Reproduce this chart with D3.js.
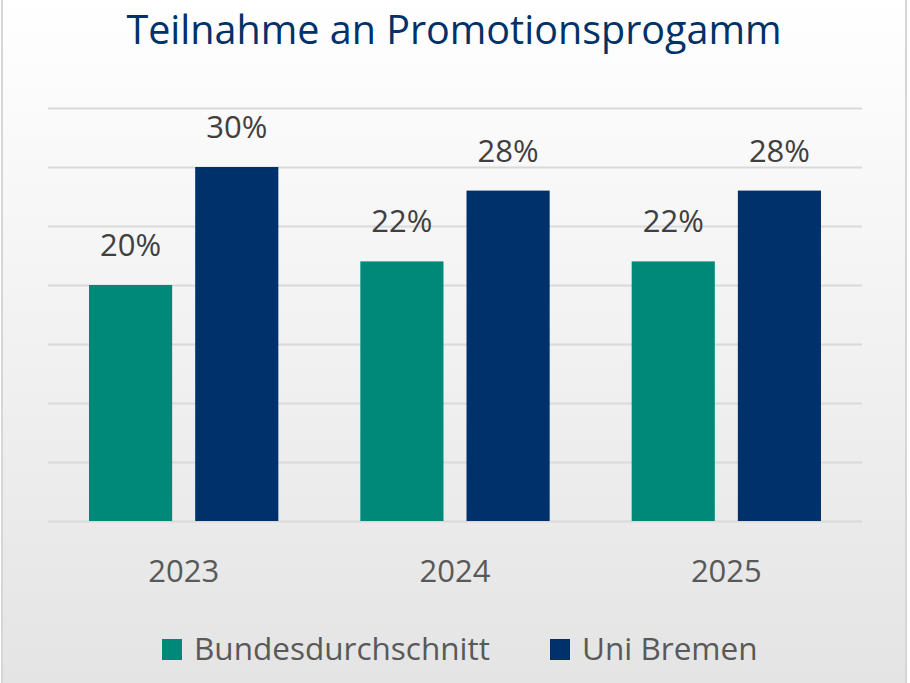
<!DOCTYPE html>
<html>
<head>
<meta charset="utf-8">
<script src="https://cdn.jsdelivr.net/npm/d3@7"></script>
<style>
  body { margin: 0; background: #fff; }
  text { font-family: "Open Sans", "Noto Sans", sans-serif; }
</style>
</head>
<body>
<div id="chart-area"></div>
<script>
// data
var years = ["2023", "2024", "2025"];
var seriesNames = ["Bundesdurchschnitt", "Uni Bremen"];
var bundValues = [20, 22, 22];
var bremenValues = [30, 28, 28];
var colors = ["#008878", "#00316b"];

var W = 910, H = 683;
var margin = { top: 108, right: 48, bottom: 162, left: 48 };
var width = W - margin.left - margin.right;
var height = H - margin.top - margin.bottom;

var svg = d3.select("#chart-area").append("svg")
    .attr("width", W)
    .attr("height", H);

// background gradient
var grad = svg.append("defs").append("linearGradient")
    .attr("id", "bg").attr("x1", 0).attr("y1", 0).attr("x2", 0).attr("y2", 1);
grad.append("stop").attr("offset", "0%").attr("stop-color", "#ffffff");
grad.append("stop").attr("offset", "100%").attr("stop-color", "#e4e4e4");

svg.append("rect")
    .attr("x", 2).attr("y", -2)
    .attr("width", W - 6).attr("height", H + 4)
    .attr("fill", "url(#bg)")
    .attr("stroke", "#d6d6d6")
    .attr("stroke-width", 2);

// title
svg.append("text")
    .attr("x", 454)
    .attr("y", 44)
    .attr("text-anchor", "middle")
    .attr("fill", "#003169")
    .style("font-size", "39.5px")
    .text("Teilnahme an Promotionsprogamm");

var g = svg.append("g")
    .attr("transform", "translate(" + margin.left + "," + margin.top + ")");

//x scale
var x0 = d3.scaleBand()
    .domain(years)
    .range([0, width])
    .padding(0);

var x1 = d3.scaleBand()
    .domain(seriesNames)
    .range([41, x0.bandwidth() - 41])
    .paddingInner(0.217)
    .paddingOuter(0);

//y scale
var y = d3.scaleLinear()
    .domain([0, 35])
    .range([height, 0]);

// gridlines
var yAxisCall = d3.axisLeft(y)
    .tickValues(d3.range(0, 36, 5))
    .tickSize(-width)
    .tickFormat("");
var yAxisGroup = g.append("g").attr("class", "y-axis").call(yAxisCall);
yAxisGroup.select(".domain").remove();
yAxisGroup.selectAll("line")
    .attr("stroke", "#d9d9d9")
    .attr("stroke-width", 2);

// x axis labels
var xAxisCall = d3.axisBottom(x0).tickSize(0).tickPadding(0);
var xAxisGroup = g.append("g")
    .attr("class", "x-axis")
    .attr("transform", "translate(0," + height + ")")
    .call(xAxisCall);
xAxisGroup.select(".domain").remove();
xAxisGroup.selectAll("text")
    .attr("y", 61)
    .attr("dy", 0)
    .attr("fill", "#595959")
    .style("font-size", "31px")
    .style("font-family", "'Open Sans', sans-serif");

var rows = years.map(function (yr, i) {
    return { year: yr, values: [bundValues[i], bremenValues[i]] };
});

var groups = g.selectAll(".grp").data(rows).enter()
    .append("g")
    .attr("class", "grp")
    .attr("transform", function (d) { return "translate(" + x0(d.year) + ",0)"; });

groups.selectAll("rect")
    .data(function (d) {
        return d.values.map(function (v, j) { return { name: seriesNames[j], value: v, idx: j }; });
    })
    .enter().append("rect")
    .attr("x", function (d) { return x1(d.name); })
    .attr("y", function (d) { return y(d.value); })
    .attr("width", x1.bandwidth())
    .attr("height", function (d) { return height - y(d.value); })
    .attr("fill", function (d) { return colors[d.idx]; });

groups.selectAll(".lbl")
    .data(function (d) {
        return d.values.map(function (v, j) { return { name: seriesNames[j], value: v }; });
    })
    .enter().append("text")
    .attr("class", "lbl")
    .attr("x", function (d) { return x1(d.name) + x1.bandwidth() / 2; })
    .attr("y", function (d) { return y(d.value) - 29; })
    .attr("text-anchor", "middle")
    .attr("fill", "#404040")
    .style("font-size", "31px")
    .text(function (d) { return d.value + "%"; });

// legend
var legendX = [162, 550];
var legend = svg.selectAll(".legend").data(seriesNames).enter()
    .append("g")
    .attr("class", "legend")
    .attr("transform", function (d, i) { return "translate(" + legendX[i] + ",639)"; });
legend.append("rect")
    .attr("width", 20).attr("height", 21)
    .attr("fill", function (d, i) { return colors[i]; });
legend.append("text")
    .attr("x", 32)
    .attr("y", 21)
    .attr("fill", "#595959")
    .style("font-size", "31.5px")
    .text(function (d) { return d; });
</script>
</body>
</html>
